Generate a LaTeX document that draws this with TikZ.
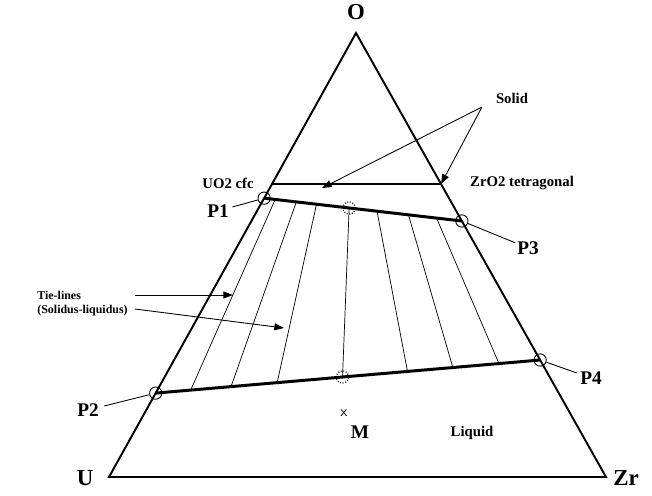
\documentclass[tikz,border=0pt]{standalone}
\usepackage{fontspec}
\setmainfont{Liberation Serif}
\usetikzlibrary{arrows.meta,calc}

\tikzset{
  lbl/.style={font=\fontsize{8.4}{9.5}\selectfont\bfseries, inner sep=0pt},
  plbl/.style={font=\fontsize{11}{13}\selectfont\bfseries, inner sep=0pt},
  corner/.style={font=\fontsize{13}{15}\selectfont\bfseries, inner sep=0pt},
  edge/.style={line width=1.1pt, line join=miter},
  boundary/.style={line width=1.7pt},
  tie/.style={line width=0.4pt},
  leader/.style={line width=0.5pt},
  ptr/.style={line width=0.5pt, -{Triangle[length=5.5pt,width=4pt]}},
  ring/.style={circle, draw, line width=0.5pt, minimum size=7pt, inner sep=0pt},
  dotring/.style={ring, densely dotted, line width=0.7pt},
}

\begin{document}
\begin{tikzpicture}[x=0.02cm, y=-0.02cm]
\useasboundingbox (0,0) rectangle (652,495);

% ternary frame
\coordinate (cO) at (356,33);
\coordinate (cU) at (109,477);
\coordinate (cZr) at (606,477);
\draw[edge] (cO) -- (cU) -- (cZr) -- cycle;

\node[corner] (lO) at (356,12) {O};
\node[corner] (lU) at (85,478) {U};
\node[corner] (lZr) at (626,478) {Zr};

% solid line
\coordinate (sL) at ($(cU)!0.66!(cO)$);
\coordinate (sR) at ($(cZr)!0.66!(cO)$);
\draw[line width=1.1pt] (sL) -- (sR);
\node[lbl] (uo2) at (228,183) {UO2 cfc};
\node[lbl] (zro2) at (522,183) {ZrO2 tetragonal};

\node[lbl] (solid) at (512,98) {Solid};
\coordinate (sv) at (482,107);
\coordinate (s1) at (322,188);
\draw[ptr] (sv) -- (s1);
\draw[ptr] (sv) -- (sR);

% solidus / liquidus points
\node[ring] (p1) at ($(cU)!0.628!(cO)$) {};
\node[ring] (p2) at ($(cU)!0.189!(cO)$) {};
\node[ring] (p3) at ($(cZr)!0.5766!(cO)$) {};
\node[ring] (p4) at ($(cZr)!0.2635!(cO)$) {};

% tie-lines
\foreach \a/\b in {0.056/0.091, 0.163/0.196, 0.265/0.316, 0.43/0.486,
                   0.571/0.655, 0.73/0.773, 0.872/0.893}
  \draw[tie] ($(p1.center)!\a!(p3.center)$) -- ($(p2.center)!\b!(p4.center)$);

\draw[boundary] (p1.center) -- (p3.center);
\draw[boundary] (p2.center) -- (p4.center);

\node[dotring] (d1) at ($(p1.center)!0.43!(p3.center)$) {};
\node[dotring] (d2) at ($(p2.center)!0.486!(p4.center)$) {};

\node[plbl] (l1) at (218,211) {P1};
\node[plbl] (l2) at (88,410) {P2};
\node[plbl] (l3) at (528,248) {P3};
\node[plbl] (l4) at (591,378) {P4};
\draw[leader, shorten <=2pt] (l1) -- (p1);
\draw[leader, shorten <=3pt] (l2) -- (p2);
\draw[leader, shorten <=1pt] (l3) -- (p3);
\draw[leader, shorten <=2pt] (l4) -- (p4);

% tie-line callout
\node[font=\fontsize{6.8}{8}\selectfont\bfseries, inner sep=0pt,
      align=left, anchor=west] (tl) at (37,304) {Tie-lines\\(Solidus-liquidus)};
\coordinate (t0) at (135,295);
\coordinate (t1) at (233,295);
\coordinate (t2) at (135,309);
\coordinate (t3) at (284,328);
\draw[ptr] (t0) -- (t1);
\draw[ptr] (t2) -- (t3);

% mixture point
\node[font=\sffamily\fontsize{8.5}{9}\selectfont, inner sep=0pt] (xm) at (344,413) {x};
\node[plbl] (m) at (360,432) {M};
\node[lbl] (liq) at (472,433) {Liquid};
\end{tikzpicture}
\end{document}
